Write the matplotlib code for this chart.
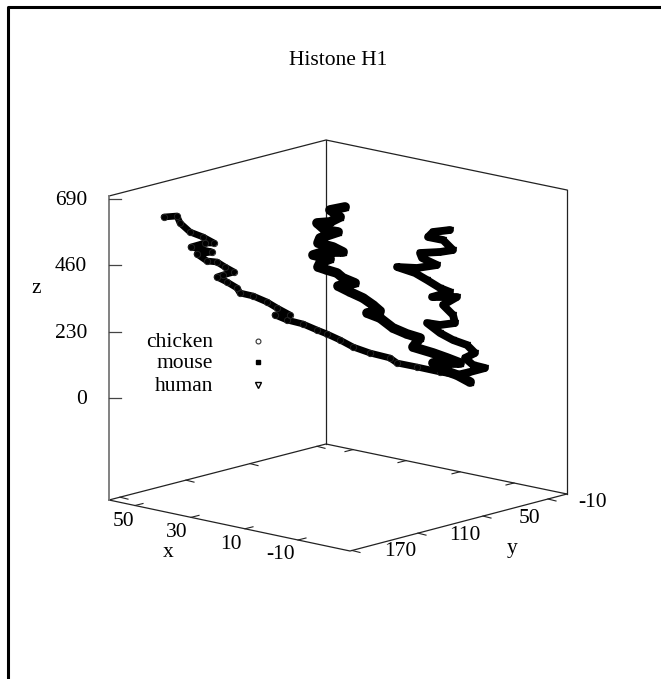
import matplotlib
matplotlib.use("Agg")
import matplotlib.pyplot as plt

# traces, in picture pixels (the 3d view is already projected)
chicken_u = [164, 177, 180, 190, 203, 214, 205, 191, 212, 197, 207, 217, 225, 234, 223, 217,
             227, 237, 240, 253, 267, 277, 290, 275, 287, 303, 317, 327, 340, 353, 370, 390,
             397, 417, 440, 457, 470]
chicken_v = [217, 216, 223, 232, 237, 243, 243, 247, 252, 254, 261, 262, 267, 272, 275, 277,
             282, 288, 293, 296, 302, 308, 315, 315, 320, 324, 330, 334, 340, 347, 353, 358,
             363, 367, 372, 375, 382]
mouse_u = [345, 330, 340, 330, 317, 325, 338, 320, 318, 333, 343, 323, 313, 330, 320, 318,
           327, 337, 343, 355, 338, 350, 363, 373, 380, 367, 380, 393, 407, 420, 413, 433,
           447, 460, 433, 443, 457, 470]
mouse_v = [207, 210, 217, 222, 223, 230, 232, 238, 243, 247, 252, 252, 255, 259, 263, 267,
           270, 273, 278, 283, 286, 292, 298, 305, 311, 313, 318, 328, 334, 338, 347, 353,
           358, 363, 363, 370, 375, 382]
human_u = [450, 433, 428, 443, 453, 440, 420, 422, 437, 417, 397, 415, 427, 440, 450, 432,
           457, 443, 453, 455, 440, 427, 440, 453, 467, 475, 465, 473, 485, 470, 457]
human_v = [230, 232, 237, 240, 250, 252, 253, 258, 265, 268, 267, 273, 280, 288, 292, 297,
           297, 305, 315, 323, 325, 323, 333, 340, 345, 353, 358, 365, 368, 372, 375]

z_ticks = ["690", "460", "230", "0"]
z_tick_v = [199, 265, 332, 398]
x_ticks = ["50", "30", "10", "-10"]
x_tick_u = [123, 177, 231, 281]
x_tick_v = [520, 531, 543, 553]
y_ticks = ["170", "110", "50", "-10"]
y_tick_u = [400, 465, 530, 593]
y_tick_v = [550, 534, 517, 501]

# where the floor ticks leave each edge
front_left_u = [135, 191, 245, 298]
back_left_u = [120, 186, 250, 317]
front_right_u = [352, 418, 483, 548]
back_right_u = [353, 406, 460, 514]

plt.rcParams["font.family"] = ["Liberation Serif", "DejaVu Serif"]
fs = 15.5

fig = plt.figure(figsize=(6.61, 6.79), dpi=100)
ax = fig.add_axes([0, 0, 1, 1])
ax.set_xlim(0, 661)
ax.set_ylim(679, 0)
ax.axis("off")


def label(u, v, s, ha="center"):
    # va center sits a bit high for this font
    ax.text(u, v + 1.5, s, ha=ha, va="center", fontsize=fs)


# page frame
ax.plot([8, 8, 661], [679, 7, 7], color="k", lw=2.2, solid_capstyle="butt")

# box
box = dict(color="#222222", lw=0.9)
ax.plot([109, 326, 567], [196, 140, 190], **box)
ax.plot([326, 326], [140, 444], **box)
ax.plot([567, 567], [190, 494], **box)
ax.plot([109, 326, 567], [500, 444, 494], **box)
ax.plot([109, 350, 567], [500, 551, 494], **box)
ax.plot([109, 109], [196, 500], color="#777777", lw=1.3)

# z ticks
for lab, v in zip(z_ticks, z_tick_v):
    ax.plot([109, 121], [v, v], color="#444444", lw=0.9)
    label(87, v, lab, ha="right")

# floor ticks
tick = dict(color="#222222", lw=0.8)
for u in front_left_u:
    v = 500 + (u - 109) * 51 / 241
    ax.plot([u, u + 8], [v, v - 2], **tick)
for u in back_left_u:
    v = 500 - (u - 109) * 56 / 217
    ax.plot([u, u + 8], [v, v + 2], **tick)
for u in front_right_u:
    v = 551 - (u - 350) * 57 / 217
    ax.plot([u, u + 8], [v, v + 2], **tick)
for u in back_right_u:
    v = 444 + (u - 326) * 50 / 241
    ax.plot([u, u - 8], [v, v + 2], **tick)

for lab, u, v in zip(x_ticks, x_tick_u, x_tick_v):
    label(u, v, lab)
for lab, u, v in zip(y_ticks, y_tick_u, y_tick_v):
    label(u, v, lab)

label(168, 551, "x")
label(512, 547, "y")
label(36, 287, "z")
label(338, 59, "Histone H1")

# series
line = dict(color="k", solid_joinstyle="round", solid_capstyle="round")
ax.plot(chicken_u, chicken_v, "-", lw=4.8, marker="o", ms=4.5, mfc="none", mec="#222222", mew=0.7, **line)
ax.plot(mouse_u, mouse_v, "-", lw=7, marker="s", ms=5, mec="k", **line)
ax.plot(human_u, human_v, "-", lw=5.6, marker="v", ms=5, mec="k", **line)

# legend
for lab, v, m, kw in [("chicken", 341, "o", dict(mfc="none", mec="#333333", mew=0.8, ms=3.5)),
                      ("mouse", 362, "s", dict(color="k", ms=3.5)),
                      ("human", 385, "v", dict(mfc="none", mec="k", mew=1, ms=4))]:
    label(213, v, lab, ha="right")
    ax.plot([258], [v], marker=m, ls="none", **kw)

fig.savefig("out.png", dpi=100)
